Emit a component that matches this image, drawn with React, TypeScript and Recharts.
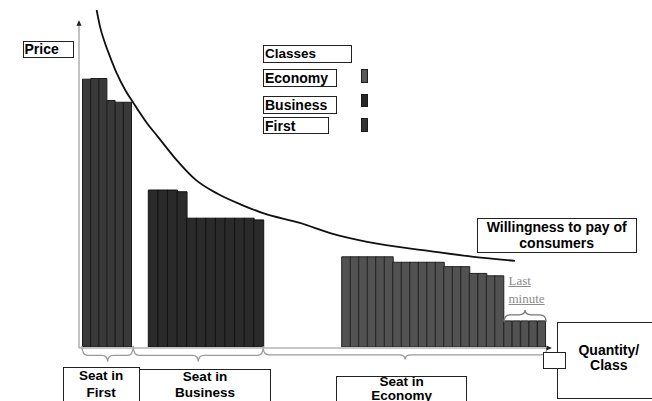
import React from 'react';
import {
  BarChart,
  Bar,
  ComposedChart,
  Line,
  XAxis,
  YAxis,
  ReferenceLine,
  ReferenceArea,
  ReferenceDot,
  Legend,
} from 'recharts';

// ---------------- data ----------------
const firstClassPrices = [79.0, 79.2, 79.2, 72.7, 72.2, 72.2];
const businessPrices = [46.3, 46.3, 46.3, 45.8, 38.0, 38.0, 38.0, 38.0, 38.0, 38.0, 38.0, 37.5];
const economyPrices = [
  26.6, 26.6, 26.6, 26.6, 26.6, 26.6,
  25.0, 25.0, 25.0, 25.0, 25.0, 25.0,
  23.7, 23.7, 23.7,
  21.7, 21.7,
  21.0, 21.0,
];
const lastMinutePrices = [7.7, 7.7, 7.7, 7.7, 7.7];

const wtpQuantity = [2.1, 2.5, 3.1, 3.7, 4.5, 5.5, 6.5, 8.1, 9.4, 11.5, 13.9, 16.5, 19.5, 22.0, 26.3, 30.0, 34.3, 41.8, 47.0, 51.9];
const wtpPrice = [99.4, 94.5, 89.6, 85.6, 80.7, 75.8, 71.9, 66.0, 62.0, 55.5, 49.3, 45.2, 41.8, 39.4, 36.6, 33.5, 31.0, 28.3, 26.6, 25.4];

const legendClasses = ['Economy', 'Business', 'First'];
const legendColors = ['#585858', '#262626', '#333333'];

const wtpData = wtpQuantity.map((q, i) => ({ q, p: wtpPrice[i] }));

// ---------------- layout ----------------
const W = 652;
const H = 401;
const TOP = 8;
const BOTTOM = 54;
const FONT = '"Liberation Sans", Arial, Helvetica, sans-serif';

function boxStyle(left: number, top: number, width: number, height: number, fontSize: number, extra: any = {}): React.CSSProperties {
  return {
    position: 'absolute',
    left,
    top,
    width,
    height,
    boxSizing: 'border-box',
    border: '1px solid #222',
    background: '#fff',
    fontFamily: FONT,
    fontWeight: 700,
    fontSize,
    color: '#000',
    whiteSpace: 'nowrap',
    ...extra,
  };
}

function SeatGroup({ prices, left, right, fill, stroke, name }: any) {
  const data = prices.map((price: number, i: number) => ({ seat: i + 1, price }));
  return (
    <div style={{ position: 'absolute', left: 0, top: 0 }}>
      <BarChart
        width={W}
        height={H}
        data={data}
        margin={{ top: TOP, bottom: BOTTOM, left, right: W - right }}
        barCategoryGap={0}
        barGap={0}
      >
        <XAxis dataKey="seat" hide />
        <YAxis domain={[0, 100]} hide allowDataOverflow />
        <Bar dataKey="price" name={name} fill={fill} stroke={stroke} strokeWidth={1} isAnimationActive={false} />
      </BarChart>
    </div>
  );
}

const braceShape = (up: boolean, color: string) => (props: any) => {
  const { x, y, width, height } = props;
  const r = Math.min(6, width / 6);
  const cx = x + width / 2;
  let d;
  if (!up) {
    const top = y;
    const bottom = y + height;
    const mid = y + height * 0.6;
    d = `M${x},${top} Q${x},${mid} ${x + r},${mid} L${cx - r},${mid} Q${cx},${mid} ${cx},${bottom} Q${cx},${mid} ${cx + r},${mid} L${x + width - r},${mid} Q${x + width},${mid} ${x + width},${top}`;
  } else {
    const top = y;
    const bottom = y + height;
    const mid = y + height * 0.4;
    d = `M${x},${bottom} Q${x},${mid} ${x + r},${mid} L${cx - r},${mid} Q${cx},${mid} ${cx},${top} Q${cx},${mid} ${cx + r},${mid} L${x + width - r},${mid} Q${x + width},${mid} ${x + width},${bottom}`;
  }
  return <path d={d} fill="none" stroke={color} strokeWidth={1.3} />;
};

const upArrow = (props: any) => {
  const { cx, cy } = props;
  return <path d={`M${cx},${cy} L${cx - 2.6},${cy + 5.5} L${cx + 2.6},${cy + 5.5} Z`} fill="#222" />;
};
const rightArrow = (props: any) => {
  const { cx, cy } = props;
  return <path d={`M${cx},${cy} L${cx - 5.5},${cy - 2.6} L${cx - 5.5},${cy + 2.6} Z`} fill="#222" />;
};

const ClassLegend = () => {
  const boxTops = [24.3, 51, 71.7];
  const boxWidths = [74, 74, 66];
  const swatchTops = [24.3, 49, 73.3];
  return (
    <div style={{ position: 'relative', width: 110, height: 90 }}>
      <div style={boxStyle(0, 0, 88.5, 18, 13.5, { lineHeight: '16px', paddingLeft: 1 })}>Classes</div>
      {legendClasses.map((c, i) => (
        <React.Fragment key={c}>
          <div style={boxStyle(0, boxTops[i], boxWidths[i], 17.5, 14, { lineHeight: '16px', paddingLeft: 1 })}>{c}</div>
          <div
            style={{
              position: 'absolute',
              left: 97.8,
              top: swatchTops[i],
              width: 7,
              height: 13.4,
              boxSizing: 'border-box',
              background: legendColors[i],
              border: '1px solid #1a1a1a',
            }}
          />
        </React.Fragment>
      ))}
    </div>
  );
};

export default function App() {
  const qPx = 8.4;
  return (
    <div style={{ position: 'absolute', left: 0, top: 0, width: W, height: H, overflow: 'hidden', background: '#fff' }}>
      <SeatGroup prices={firstClassPrices} left={82.5} right={131.7} fill="#393939" stroke="#1c1c1c" name="First" />
      <SeatGroup prices={businessPrices} left={148.3} right={263.3} fill="#2a2a2a" stroke="#121212" name="Business" />
      <SeatGroup prices={economyPrices} left={341.7} right={503.3} fill="#525252" stroke="#222" name="Economy" />
      <SeatGroup prices={lastMinutePrices} left={503.8} right={546} fill="#525252" stroke="#222" name="Last minute" />

      <div style={{ position: 'absolute', left: 0, top: 0 }}>
        <ComposedChart
          width={W}
          height={H}
          data={wtpData}
          margin={{ top: TOP, bottom: BOTTOM, left: 79, right: W - 79 - 56 * qPx }}
        >
          <XAxis type="number" dataKey="q" domain={[0, 56]} hide />
          <YAxis type="number" domain={[0, 100]} hide />
          <ReferenceLine segment={[{ x: 0, y: -0.3 }, { x: 0, y: 96 }]} stroke="#b3b3b3" strokeWidth={1.6} ifOverflow="visible" />
          <ReferenceLine segment={[{ x: 0, y: -0.3 }, { x: 56.1, y: -0.3 }]} stroke="#b3b3b3" strokeWidth={1.6} ifOverflow="visible" />
          <ReferenceDot x={0} y={96.4} shape={upArrow} ifOverflow="visible" />
          <ReferenceDot x={56.3} y={-0.3} shape={rightArrow} ifOverflow="visible" />
          <ReferenceArea x1={0.36} x2={6.46} y1={-4.34} y2={0.3} ifOverflow="visible" shape={braceShape(false, '#9a9a9a')} />
          <ReferenceArea x1={6.46} x2={21.94} y1={-4.3} y2={0.3} ifOverflow="visible" shape={braceShape(false, '#9a9a9a')} />
          <ReferenceArea x1={21.94} x2={55.7} y1={-3.7} y2={-0.3} ifOverflow="visible" shape={braceShape(false, '#9a9a9a')} />
          <ReferenceArea x1={50.6} x2={55.6} y1={7.4} y2={10.9} ifOverflow="visible" shape={braceShape(true, '#777')} />
          <Line dataKey="p" type="monotone" stroke="#111" strokeWidth={1.8} dot={false} isAnimationActive={false} />
          <Legend
            layout="vertical"
            align="center"
            verticalAlign="middle"
            content={<ClassLegend />}
            wrapperStyle={{ position: 'absolute', left: 263, top: 45, width: 110, height: 90 }}
          />
        </ComposedChart>
      </div>

      <div style={boxStyle(22.5, 40.5, 51.5, 17.8, 14, { lineHeight: '15.5px', paddingLeft: 1 })}>Price</div>
      <div style={boxStyle(476.7, 218.3, 160, 34.6, 14, { lineHeight: '16px', textAlign: 'center' })}>
        Willingness to pay of
        <br />
        consumers
      </div>
      <div
        style={{
          position: 'absolute',
          left: 508.5,
          top: 272,
          fontFamily: '"Liberation Serif", "Times New Roman", serif',
          fontSize: 13,
          lineHeight: '18px',
          color: '#8c8c8c',
          textDecoration: 'underline',
        }}
      >
        Last
        <br />
        minute
      </div>
      <div style={boxStyle(62.7, 367.3, 77, 40, 13.5)}>
        <div style={{ position: 'absolute', left: 0, right: 0, top: 0, lineHeight: '16.5px', textAlign: 'center' }}>
          Seat in
          <br />
          First
        </div>
      </div>
      <div style={boxStyle(139.3, 369.3, 131.4, 40, 13.5)}>
        <div style={{ position: 'absolute', left: 0, right: 0, top: -1.5, lineHeight: '16.5px', textAlign: 'center' }}>
          Seat in
          <br />
          Business
        </div>
      </div>
      <div style={boxStyle(336, 376, 131.3, 30, 13.5)}>
        <div style={{ position: 'absolute', left: 0, right: 0, top: -2, lineHeight: '13.5px', textAlign: 'center' }}>
          Seat in
          <br />
          Economy
        </div>
      </div>
      <div style={boxStyle(557.3, 321.7, 103, 77.6, 14, { lineHeight: '15.3px', textAlign: 'center', paddingTop: 20 })}>
        Quantity/
        <br />
        Class
      </div>
      <div style={boxStyle(542.7, 351.7, 23.3, 17.7, 12)} />
    </div>
  );
}
